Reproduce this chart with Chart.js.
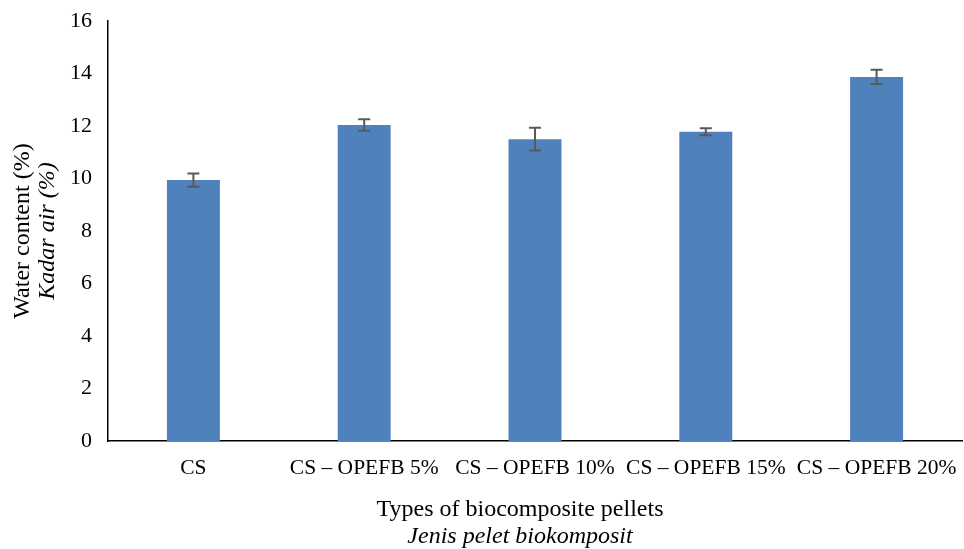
<!DOCTYPE html>
<html>
<head>
<meta charset="utf-8">
<script src="https://cdn.jsdelivr.net/npm/chart.js@4/dist/chart.umd.min.js"></script>
<style>
html,body{margin:0;padding:0;background:#fff;}
#wrap{width:964px;height:549px;position:relative;}
</style>
</head>
<body>
<div id="wrap"><canvas id="c" width="964" height="549"></canvas></div>
<script>
const categories = ["CS", "CS \u2013 OPEFB 5%", "CS \u2013 OPEFB 10%", "CS \u2013 OPEFB 15%", "CS \u2013 OPEFB 20%"];
const waterContent = [9.94, 12.04, 11.50, 11.78, 13.87];
const errors = [0.25, 0.22, 0.43, 0.13, 0.27];
const yTicks = [0, 2, 4, 6, 8, 10, 12, 14, 16];
const yTitle = ["Water content (%)", "Kadar air (%)"];
const xTitle = ["Types of biocomposite pellets", "Jenis pelet biokomposit"];

const FONT = "'Liberation Serif', 'Times New Roman', serif";

const errorBarPlugin = {
  id: 'errorBars',
  afterDatasetsDraw(chart) {
    const ctx = chart.ctx;
    const meta = chart.getDatasetMeta(0);
    const y = chart.scales.y;
    ctx.save();
    ctx.strokeStyle = '#595959';
    ctx.lineWidth = 2;
    meta.data.forEach((bar, i) => {
      const v = waterContent[i], e = errors[i];
      const x = bar.x;
      const yt = y.getPixelForValue(v + e);
      const yb = y.getPixelForValue(v - e);
      ctx.beginPath();
      ctx.moveTo(x, yt); ctx.lineTo(x, yb);
      ctx.moveTo(x - 6, yt); ctx.lineTo(x + 6, yt);
      ctx.moveTo(x - 6, yb); ctx.lineTo(x + 6, yb);
      ctx.stroke();
    });
    ctx.restore();
  }
};

const titlePlugin = {
  id: 'titles',
  afterDraw(chart) {
    const ctx = chart.ctx;
    ctx.save();
    ctx.fillStyle = '#000';
    ctx.textAlign = 'center';
    ctx.textBaseline = 'middle';
    // x title
    const cx = 520;
    ctx.font = "24px " + FONT;
    ctx.fillText(xTitle[0], cx, 510);
    ctx.font = "italic 24px " + FONT;
    ctx.fillText(xTitle[1], cx, 537);
    // y title
    ctx.translate(23, 231);
    ctx.rotate(-Math.PI / 2);
    ctx.font = "24px " + FONT;
    ctx.fillText(yTitle[0], 0, 0);
    ctx.font = "italic 24px " + FONT;
    ctx.fillText(yTitle[1], 0, 25);
    ctx.restore();
  }
};

new Chart(document.getElementById('c'), {
  type: 'bar',
  data: {
    labels: categories,
    datasets: [{
      data: waterContent,
      backgroundColor: '#4f81bd',
      borderWidth: 0,
      categoryPercentage: 1,
      barPercentage: 0.31
    }]
  },
  options: {
    responsive: false,
    animation: false,
    devicePixelRatio: 1,
    layout: { padding: { left: 58, right: 2, top: 21, bottom: 0 } },
    plugins: { legend: { display: false }, tooltip: { enabled: false } },
    scales: {
      x: {
        grid: { display: false, drawTicks: false },
        border: { display: true, color: '#000', width: 1.5 },
        ticks: { color: '#000', font: { family: FONT, size: 21.5 }, padding: 14, maxRotation: 0, autoSkip: false },
        afterFit(s) { s.height = 108; s.paddingLeft = 0; s.paddingRight = 0; }
      },
      y: {
        min: 0, max: 16,
        afterBuildTicks(s) { s.ticks = yTicks.map(v => ({ value: v })); },
        grid: { display: false, drawOnChartArea: false, drawTicks: true, tickLength: 6, tickColor: '#000', tickWidth: 1.5 },
        border: { display: true, color: '#000', width: 1.5 },
        ticks: { color: '#000', font: { family: FONT, size: 22 }, padding: 10 },
        afterFit(s) { s.width = 50; s.paddingTop = 0; s.paddingBottom = 0; }
      }
    }
  },
  plugins: [errorBarPlugin, titlePlugin]
});
</script>
</body>
</html>
